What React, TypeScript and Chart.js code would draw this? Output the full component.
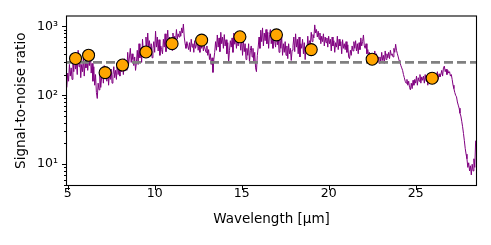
import { useEffect, useRef } from 'react';
import { Chart, registerables } from 'chart.js';

Chart.register(...registerables);

// Spectrum: wavelength grid start and spacing (µm), and SNR values
const spectrumStart = 4.95;
const spectrumStep = 0.05;
const spectrumSNR = [
  130, 210, 160, 280, 190, 250, 170, 330, 220, 400,
  240, 300, 200, 450, 260, 340, 180, 280, 220, 350,
  190, 300, 250, 400, 230, 330, 270, 450, 210, 290,
  160, 260, 140, 200, 110, 90, 150, 120, 200, 130,
  180, 240, 150, 270, 190, 230, 160, 250, 140, 210,
  170, 240, 150, 200, 260, 180, 230, 170, 290, 200,
  250, 190, 310, 220, 280, 200, 340, 250, 300, 230,
  420, 280, 360, 480, 300, 400, 330, 270, 360, 230,
  300, 450, 280, 560, 350, 480, 300, 650, 420, 520,
  380, 700, 450, 800, 500, 620, 400, 560, 350, 480,
  600, 420, 850, 500, 700, 440, 640, 380, 520, 460,
  400, 650, 500, 780, 430, 600, 880, 520, 700, 480,
  620, 450, 800, 560, 720, 600, 900, 650, 780, 700,
  850, 720, 950, 800, 1080, 700, 560, 480, 600, 520,
  460, 580, 430, 650, 500, 560, 420, 620, 480, 540,
  600, 450, 560, 420, 640, 480, 590, 440, 520, 470,
  420, 520, 380, 460, 330, 400, 280, 350, 215, 330,
  420, 600, 450, 750, 500, 680, 430, 820, 560, 700,
  480, 760, 520, 640, 400, 580, 300, 450, 620, 500,
  680, 420, 800, 550, 700, 480, 650, 520, 760, 600,
  450, 700, 380, 620, 430, 560, 330, 480, 380, 560,
  300, 450, 520, 360, 480, 300, 420, 250, 220, 380,
  500, 700, 480, 880, 600, 950, 520, 800, 620, 900,
  560, 820, 480, 760, 900, 560, 700, 480, 780, 600,
  500, 850, 540, 720, 420, 650, 480, 700, 380, 560,
  420, 600, 380, 520, 340, 560, 400, 480, 320, 450,
  520, 700, 430, 780, 500, 650, 400, 700, 360, 560,
  480, 650, 400, 580, 330, 500, 420, 720, 480, 620,
  560, 820, 600, 760, 680, 1050, 800, 900, 700, 850,
  650, 800, 560, 720, 600, 780, 520, 700, 580, 680,
  500, 720, 560, 650, 440, 700, 520, 620, 420, 580,
  500, 720, 460, 650, 520, 600, 400, 640, 480, 560,
  460, 600, 420, 540, 360, 340, 450, 380, 520, 440,
  600, 480, 620, 440, 560, 400, 580, 460, 680, 520,
  600, 750, 520, 480, 560, 400, 460, 380, 420, 330,
  400, 340, 360, 300, 440, 350, 400, 320, 360, 290,
  360, 300, 420, 320, 380, 290, 440, 330, 400, 350,
  420, 340, 450, 380, 400, 360, 480, 420, 550, 450,
  400, 360, 320, 300, 270, 250, 230, 200, 180, 160,
  150, 170, 140, 160, 130, 120, 150, 125, 165, 140,
  170, 150, 190, 140, 180, 160, 200, 150, 185, 165,
  190, 150, 200, 160, 185, 140, 195, 170, 210, 160,
  190, 165, 210, 175, 200, 180, 220, 170, 205, 185,
  200, 230, 190, 250, 265, 220, 240, 200, 230, 210,
  220, 190, 200, 170, 140, 125, 110, 100, 95, 80,
  72, 65, 55, 50, 42, 35, 28, 22, 17, 14,
  12, 9, 10.5, 8, 9.5, 7, 10, 8, 12, 9,
  22,
];

// Band points (orange markers)
const bandWavelengths = [5.45, 6.2, 7.15, 8.15, 9.5, 11.0, 12.7, 14.9, 17.0, 19.0, 22.5, 25.95];
const bandSNR = [342, 381, 213, 275, 425, 561, 631, 706, 753, 460, 334, 177];

// Threshold line
const thresholdSNR = 300;

// Axes
const xMin = 4.96;
const xMax = 28.47;
const yMin = 5;
const yMax = 1390;
const xTicks = [5, 10, 15, 20, 25];
const yMajorTicks = [10, 100, 1000];
const yTickLabels = ['10¹', '10²', '10³'];
const yMinorTicks = [5, 6, 7, 8, 9, 20, 30, 40, 50, 60, 70, 80, 90, 200, 300, 400, 500, 600, 700, 800, 900];

const TICK_FONT = { family: 'DejaVu Sans', size: 12.5 };
const TITLE_FONT = { family: 'DejaVu Sans', size: 13.5 };

const framePlugin = {
  id: 'frameTicks',
  afterDraw(chart: any) {
    const { ctx, chartArea: a, scales } = chart;
    ctx.save();
    ctx.strokeStyle = '#000';
    ctx.lineWidth = 1;
    ctx.beginPath();
    xTicks.forEach((v) => {
      const px = Math.round(scales.x.getPixelForValue(v)) + 0.5;
      ctx.moveTo(px, a.bottom);
      ctx.lineTo(px, a.bottom + 5);
    });
    yMajorTicks.forEach((v) => {
      const py = Math.round(scales.y.getPixelForValue(v)) + 0.5;
      ctx.moveTo(a.left - 5, py);
      ctx.lineTo(a.left, py);
    });
    yMinorTicks.forEach((v) => {
      const py = Math.round(scales.y.getPixelForValue(v)) + 0.5;
      ctx.moveTo(a.left - 3, py);
      ctx.lineTo(a.left, py);
    });
    ctx.stroke();
    ctx.lineWidth = 1.1;
    ctx.strokeRect(a.left - 0.5, a.top - 0.5, a.right - a.left + 1, a.bottom - a.top + 1);
    ctx.restore();
  },
};

export default function App() {
  const ref = useRef<HTMLCanvasElement | null>(null);

  useEffect(() => {
    document.body.style.margin = '0';
    const canvas = ref.current;
    if (!canvas) return;

    const spectrum = spectrumSNR.map((v, i) => ({ x: spectrumStart + i * spectrumStep, y: v }));
    const bands = bandWavelengths.map((w, i) => ({ x: w, y: bandSNR[i] }));
    const threshold = [
      { x: xMin, y: thresholdSNR },
      { x: xMax, y: thresholdSNR },
    ];

    const chart = new Chart(canvas, {
      type: 'scatter',
      data: {
        datasets: [
          {
            data: bands,
            pointRadius: 6,
            pointHoverRadius: 6,
            pointBackgroundColor: '#FFA500',
            pointBorderColor: '#000000',
            pointBorderWidth: 1.1,
            showLine: false,
          },
          {
            data: threshold,
            showLine: true,
            borderColor: '#808080',
            borderWidth: 2.6,
            borderDash: [9, 4],
            pointRadius: 0,
          },
          {
            data: spectrum,
            showLine: true,
            borderColor: '#800080',
            borderWidth: 1,
            pointRadius: 0,
            tension: 0,
          },
        ],
      } as any,
      options: {
        animation: false,
        responsive: false,
        devicePixelRatio: 1,
        events: [],
        layout: { padding: { left: 13, top: 15, right: 15, bottom: 0 } },
        plugins: {
          legend: { display: false },
          tooltip: { enabled: false },
        },
        scales: {
          x: {
            type: 'linear',
            min: xMin,
            max: xMax,
            grid: { display: false, tickLength: 0, drawTicks: false },
            border: { display: false },
            afterBuildTicks: (s: any) => {
              s.ticks = xTicks.map((v) => ({ value: v }));
            },
            afterFit: (s: any) => {
              s.height = 60;
            },
            ticks: {
              padding: 1,
              color: '#000',
              font: TICK_FONT,
              maxRotation: 0,
              autoSkip: false,
            },
            title: {
              display: true,
              text: 'Wavelength [μm]',
              color: '#000',
              font: TITLE_FONT,
              padding: { top: 0, bottom: 17 },
            },
          },
          y: {
            type: 'logarithmic',
            min: yMin,
            max: yMax,
            grid: { display: false, tickLength: 0, drawTicks: false },
            border: { display: false },
            afterBuildTicks: (s: any) => {
              s.ticks = yMajorTicks.map((v) => ({ value: v }));
            },
            afterFit: (s: any) => {
              s.width = 54;
            },
            ticks: {
              padding: 9,
              color: '#000',
              font: TICK_FONT,
              autoSkip: false,
              callback: (v: any) => {
                const i = yMajorTicks.indexOf(Number(v));
                return i >= 0 ? yTickLabels[i] : '';
              },
            },
            title: {
              display: true,
              text: 'Signal-to-noise ratio',
              color: '#000',
              font: TITLE_FONT,
              padding: 0,
            },
          },
        },
      } as any,
      plugins: [framePlugin],
    });

    return () => {
      chart.destroy();
    };
  }, []);

  return <canvas ref={ref} width={491} height={245} style={{ display: 'block', width: 491, height: 245 }} />;
}
